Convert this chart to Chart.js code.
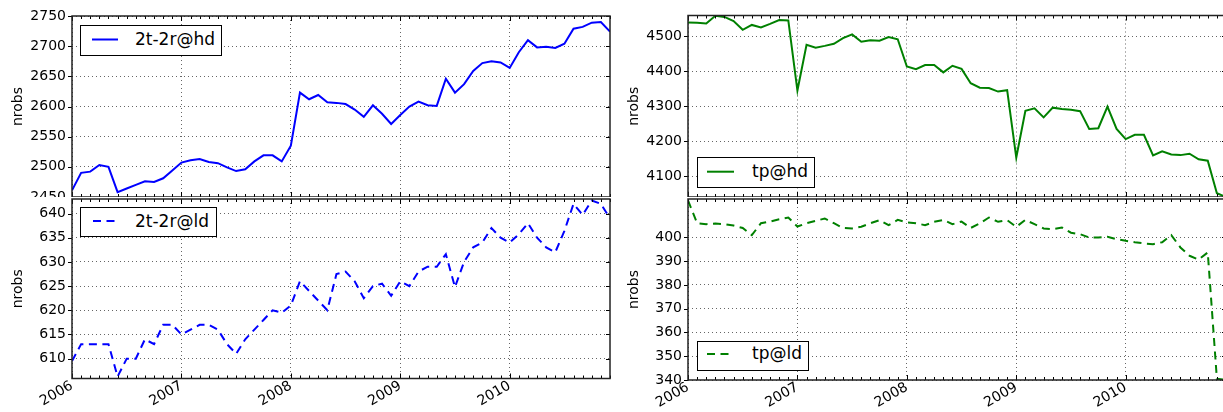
<!DOCTYPE html>
<html>
<head>
<meta charset="utf-8">
<script src="https://cdn.jsdelivr.net/npm/chart.js@4.4.1/dist/chart.umd.min.js"></script>
<style>
html,body{margin:0;padding:0;width:1223px;height:412px;overflow:hidden;background:#fff;font-family:"DejaVu Sans",sans-serif;}
.panel{position:absolute;width:620px;height:215px;}
.panel canvas{display:block;}
.bg{background:#fff;}
.legend{position:absolute;border:1px solid #000;background:#fff;box-sizing:border-box;z-index:5;}
.lsample{position:absolute;z-index:6;overflow:visible;}
.ltext{position:absolute;z-index:6;font-family:"DejaVu Sans",sans-serif;font-size:17px;line-height:17px;white-space:nowrap;color:#000;}
</style>
</head>
<body>
<div class="panel" style="left:0;top:0;"><canvas id="c1" width="620" height="215"></canvas></div>
<div class="panel bg" style="left:0;top:197px;"><canvas id="c2" width="620" height="215"></canvas></div>
<div class="panel" style="left:616px;top:0;"><canvas id="c3" width="620" height="215"></canvas></div>
<div class="panel bg" style="left:616px;top:197px;"><canvas id="c4" width="620" height="215"></canvas></div>

<div class="legend" style="left:80px;top:25px;width:142px;height:31px;"></div>
<svg class="lsample" style="left:92px;top:35px;" width="27" height="10"><line x1="0" y1="4.5" x2="26" y2="4.5" stroke="#0000ff" stroke-width="2"/></svg>
<span class="ltext" style="left:135px;top:30.5px;">2t-2r@hd</span>

<div class="legend" style="left:80px;top:207px;width:137px;height:30px;"></div>
<svg class="lsample" style="left:93px;top:216px;" width="27" height="10"><line x1="0" y1="5" x2="23" y2="5" stroke="#0000ff" stroke-width="2" stroke-dasharray="8 5.5"/></svg>
<span class="ltext" style="left:135px;top:212.5px;">2t-2r@ld</span>

<div class="legend" style="left:697px;top:157px;width:118px;height:31px;"></div>
<svg class="lsample" style="left:707px;top:167px;" width="28" height="10"><line x1="0" y1="4.7" x2="27" y2="4.7" stroke="#008000" stroke-width="2"/></svg>
<span class="ltext" style="left:752px;top:162.5px;">tp@hd</span>

<div class="legend" style="left:697px;top:341px;width:112px;height:30px;"></div>
<svg class="lsample" style="left:707px;top:349px;" width="26" height="10"><line x1="0" y1="5" x2="25" y2="5" stroke="#008000" stroke-width="2" stroke-dasharray="8 5.5"/></svg>
<span class="ltext" style="left:752px;top:345px;">tp@ld</span>

<script>
// ---- data (monthly, Jan 2006 .. Dec 2010) ----
const startYear = 2006;
const monthCount = 60;
const months = [];
for (let i = 0; i < monthCount; i++) {
  const y = startYear + Math.floor(i / 12), m = (i % 12) + 1;
  months.push(y + '-' + String(m).padStart(2, '0'));
}
const yearTicks = [2006, 2007, 2008, 2009, 2010];

const hd2t = [
  2461, 2490, 2492, 2503, 2500, 2458, 2464, 2470, 2476, 2475,
  2481, 2494, 2507, 2511, 2513, 2508, 2506, 2499, 2493, 2496,
  2509, 2519, 2519, 2509, 2535, 2623, 2612, 2619, 2607, 2606,
  2604, 2595, 2583, 2602, 2588, 2571, 2586, 2600, 2608, 2602,
  2601, 2646, 2623, 2637, 2659, 2672, 2675, 2673, 2664, 2690,
  2710, 2698, 2699, 2697, 2704, 2729, 2732, 2739, 2740, 2724
];
const ld2t = [
  609.5, 613, 613, 613, 613, 606.3, 610, 610, 614, 613,
  617, 617, 615, 616, 617, 617, 616, 613, 611, 614,
  616, 618, 620, 619.5, 621, 626, 624, 622, 620, 627.5,
  628, 626, 622.5, 625, 625.5, 623, 626, 625, 628, 629,
  629, 631.6, 624.8, 630, 633, 634, 637, 635, 634, 635.7,
  638, 635, 633, 632, 636.4, 642, 639.7, 642.7, 642, 639
];
const tphd = [
  4540, 4539, 4537, 4559, 4556, 4544, 4519, 4533, 4526, 4536,
  4547, 4546, 4345, 4476, 4468, 4473, 4479, 4495, 4506, 4485,
  4489, 4488, 4498, 4492, 4414, 4406, 4418, 4418, 4397, 4416,
  4407, 4366, 4353, 4352, 4342, 4346, 4153, 4287, 4294, 4268,
  4296, 4292, 4290, 4286, 4235, 4237, 4299, 4235, 4206, 4218,
  4218, 4159, 4171, 4162, 4160, 4164, 4148, 4144, 4051, 4040
];
const tpld = [
  415.6, 406, 405.6, 405.9, 405.6, 405, 404, 401, 406, 406.7,
  407.7, 408.4, 404.6, 406, 407, 408, 406, 404, 403.8, 404.5,
  406, 407.3, 405.2, 407.4, 406.3, 406, 405.2, 406.6, 407.4, 405.6,
  406.7, 404, 405.9, 408.4, 406.6, 407.3, 404.5, 407.4, 405.6, 403.8,
  403.5, 404.2, 402, 401.4, 400, 400, 400.3, 399.3, 398.6, 398,
  397.5, 397.2, 398, 401, 395.8, 392.3, 390.7, 393.7, 340.5, 340
];

const ticks2t_hd = [2450, 2500, 2550, 2600, 2650, 2700, 2750];
const ticks2t_ld = [610, 615, 620, 625, 630, 635, 640];
const ticksTp_hd = [4100, 4200, 4300, 4400, 4500];
const ticksTp_ld = [340, 350, 360, 370, 380, 390, 400];

// month label -> decimal year
const xVals = months.map(s => { const [y, m] = s.split('-').map(Number); return y + (m - 1) / 12; });

const FONT = {family: 'DejaVu Sans', size: 14};
const GRID = {color: 'rgba(0,0,0,0.6)', lineWidth: 1, drawTicks: false};

const frameTicks = {
  id: 'frameTicks',
  afterDatasetsDraw(chart) {
    const {ctx, chartArea: a, scales: {x, y}} = chart;
    ctx.save();
    ctx.strokeStyle = '#000';
    ctx.lineWidth = 1;
    ctx.beginPath();
    for (const v of xVals) {
      const px = Math.round(x.getPixelForValue(v)) + 0.5;
      ctx.moveTo(px, a.bottom); ctx.lineTo(px, a.bottom - 3);
      ctx.moveTo(px, a.top); ctx.lineTo(px, a.top + 3);
    }
    for (const v of yearTicks) {
      const px = Math.round(x.getPixelForValue(v)) + 0.5;
      ctx.moveTo(px, a.bottom); ctx.lineTo(px, a.bottom - 5);
      ctx.moveTo(px, a.top); ctx.lineTo(px, a.top + 5);
    }
    for (const t of y.ticks) {
      const py = Math.round(y.getPixelForValue(t.value)) + 0.5;
      ctx.moveTo(a.left, py); ctx.lineTo(a.left - 4, py);
      ctx.moveTo(a.right, py); ctx.lineTo(a.right - 4, py);
    }
    ctx.stroke();
    ctx.lineWidth = 1.5;
    ctx.strokeStyle = '#222';
    ctx.strokeRect(a.left, a.top, a.right - a.left, a.bottom - a.top);
    ctx.restore();
  }
};

function makeChart(id, values, o) {
  const ctx = document.getElementById(id).getContext('2d');
  return new Chart(ctx, {
    type: 'line',
    data: {
      datasets: [{
        data: values.map((v, i) => ({x: xVals[i], y: v})),
        borderColor: o.color,
        borderWidth: 2,
        borderDash: o.dash || [],
        pointRadius: 0,
        fill: false,
        tension: 0
      }]
    },
    options: {
      responsive: false,
      animation: false,
      devicePixelRatio: 1,
      layout: {padding: {left: 0, right: 10, top: o.padTop, bottom: o.padBottom}},
      plugins: {legend: {display: false}, tooltip: {enabled: false}},
      scales: {
        x: {
          type: 'linear',
          min: xVals[0],
          max: xVals[xVals.length - 1],
          afterBuildTicks: s => { s.ticks = yearTicks.map(v => ({value: v})); },
          afterFit: s => { s.height = o.xHeight; s.paddingLeft = 0; s.paddingRight = 0; },
          grid: GRID,
          border: {display: false, dash: [1, 3]},
          ticks: {
            display: o.showX, autoSkip: false, minRotation: 30, maxRotation: 30,
            padding: -1, font: FONT, color: '#000', callback: v => String(v)
          }
        },
        y: {
          type: 'linear',
          min: o.yMin,
          max: o.yMax,
          afterBuildTicks: s => { s.ticks = o.yTicks.map(v => ({value: v})); },
          afterFit: s => { s.width = 72; s.paddingTop = 0; s.paddingBottom = 0; },
          grid: GRID,
          border: {display: false, dash: [1, 3]},
          ticks: {padding: 6, font: FONT, color: '#000', callback: v => String(v)},
          title: {display: true, text: 'nrobs', font: FONT, color: '#000', padding: {top: 10, bottom: 0}}
        }
      }
    },
    plugins: [frameTicks]
  });
}

makeChart('c1', hd2t, {color: '#0000ff', yMin: 2450, yMax: 2750, yTicks: ticks2t_hd, showX: false, padTop: 16, padBottom: 18, xHeight: 0});
makeChart('c2', ld2t, {color: '#0000ff', dash: [8, 5.5], yMin: 605.9, yMax: 643, yTicks: ticks2t_ld, showX: true, padTop: 2, padBottom: 0, xHeight: 33.5});
makeChart('c3', tphd, {color: '#008000', yMin: 4040, yMax: 4560, yTicks: ticksTp_hd, showX: false, padTop: 15.5, padBottom: 18, xHeight: 0});
makeChart('c4', tpld, {color: '#008000', dash: [8, 5.5], yMin: 340, yMax: 416.2, yTicks: ticksTp_ld, showX: true, padTop: 2, padBottom: 0, xHeight: 32});
</script>
</body>
</html>
